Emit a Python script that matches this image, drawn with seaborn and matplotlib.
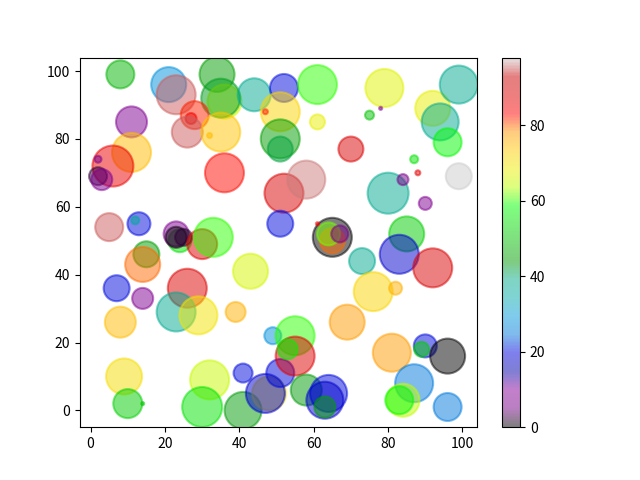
import numpy as np
import pandas as pd
import matplotlib
matplotlib.use("Agg")
import matplotlib.pyplot as plt
from matplotlib.colors import Normalize, ListedColormap
from matplotlib.cm import ScalarMappable
import seaborn as sns

plt.rcParams['font.family'] = ['Noto Sans CJK SC', 'DejaVu Sans']

x_vals = [8, 21, 23, 34, 36, 35, 44, 28, 27, 26, 35, 32, 11, 11, 6, 2, 2, 3, 36, 52,
          58, 51, 5, 13, 12, 24, 23, 23, 25, 30, 33, 15, 14, 26, 43, 7, 14, 23, 29, 39,
          8, 9, 10, 14, 32, 30, 41, 41, 48, 47, 51, 49, 55, 55, 53, 58, 64, 63, 63, 73,
          85, 83, 92, 76, 82, 69, 81, 90, 89, 96, 87, 84, 83, 96, 65, 65, 64, 67, 61, 52,
          51, 47, 51, 51, 61, 61, 79, 78, 75, 70, 92, 94, 96, 99, 87, 88, 99, 80, 84, 90]
y_vals = [99, 96, 93, 99, 91, 92, 93, 87, 86, 82, 82, 81, 85, 76, 72, 74, 69, 68, 70, 64,
          68, 55, 54, 55, 56, 50, 52, 51, 51, 49, 51, 46, 43, 36, 41, 36, 33, 29, 28, 29,
          26, 10, 2, 2, 9, 1, 0, 11, 5, 5, 11, 22, 22, 16, 18, 6, 5, 3, 1, 44,
          52, 46, 42, 35, 36, 26, 17, 19, 18, 16, 8, 3, 3, 1, 51, 50, 52, 52, 55, 95,
          88, 88, 80, 77, 96, 85, 95, 89, 87, 77, 89, 85, 79, 96, 74, 70, 69, 64, 68, 61]
color_vals = [48, 28, 95, 45, 66, 43, 38, 82, 85, 95, 74, 75, 8, 75, 86, 6, 2, 8, 83, 89,
              96, 20, 95, 20, 36, 55, 8, 1, 2, 88, 60, 45, 80, 88, 66, 20, 8, 38, 70, 76,
              75, 71, 52, 50, 65, 55, 44, 20, 70, 18, 20, 28, 60, 88, 57, 44, 20, 18, 45, 38,
              52, 18, 89, 72, 76, 78, 78, 20, 52, 0, 25, 64, 58, 25, 0, 80, 62, 5, 84, 20,
              72, 82, 45, 42, 60, 68, 67, 8, 50, 89, 68, 38, 58, 38, 55, 87, 98, 38, 5, 8]
size_vals = [406, 635, 788, 635, 599, 788, 565, 406, 63, 498, 788, 13, 498, 788, 871, 25, 168, 229, 788, 788,
             749, 350, 406, 274, 33, 274, 324, 229, 150, 467, 788, 350, 635, 788, 635, 350, 229, 788, 749, 207,
             498, 672, 436, 5, 788, 829, 710, 187, 599, 788, 406, 150, 788, 788, 207, 498, 710, 710, 229, 350,
             635, 788, 788, 788, 88, 635, 749, 274, 117, 635, 749, 565, 406, 406, 788, 324, 274, 150, 5, 406,
             788, 13, 788, 324, 788, 117, 749, 5, 42, 324, 635, 710, 406, 749, 33, 13, 350, 871, 63, 88]

df = pd.DataFrame({"x": x_vals, "y": y_vals, "c": color_vals, "s": size_vals})

fig, ax = plt.subplots(figsize=(6.4, 4.8), dpi=100)
smin, smax = min(size_vals), max(size_vals)
sns.scatterplot(data=df, x="x", y="y", hue="c", size="s",
                palette="nipy_spectral", hue_norm=(0, 98),
                sizes=(smin, smax), size_norm=(smin, smax),
                alpha=0.5, edgecolor="face", linewidth=1.5,
                legend=False, ax=ax)
ax.set_xlabel("")
ax.set_ylabel("")

base = plt.get_cmap("nipy_spectral")(np.linspace(0, 1, 256))
base[:, 3] = 0.5
cmap_a = ListedColormap(base)
sm = ScalarMappable(norm=Normalize(0, 98), cmap=cmap_a)
sm.set_array([])
fig.colorbar(sm, ax=ax)

fig.savefig("out.png", dpi=100)
